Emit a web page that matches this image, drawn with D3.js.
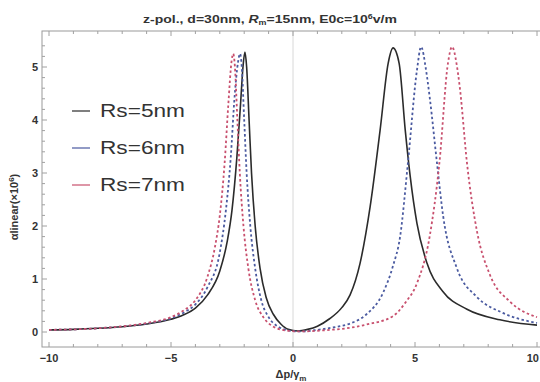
<!DOCTYPE html>
<html><head><meta charset="utf-8">
<script src="https://cdn.jsdelivr.net/npm/d3@7"></script>
<style>body{margin:0;background:#fff}svg{display:block}text{font-family:"Liberation Sans",Arial,sans-serif}</style>
</head><body><svg id="c" width="540" height="382"></svg>
<script>
const seriesNames = ["Rs=5nm","Rs=6nm","Rs=7nm"];
const xTicks = [-10,-5,0,5,10];
const yTicks = [0,1,2,3,4,5];
// Rs=5nm (black, solid)
const rs5 = [[-10,0.04],[-9,0.05],[-8,0.07],[-7,0.1],[-6,0.15],[-5,0.24],[-4.5,0.32],[-4,0.45],[-3.5,0.7],[-3,1.15],[-2.7,1.7],[-2.5,2.3],[-2.3,3.3],[-2.15,4.3],[-2.05,5.0],[-1.97,5.28],[-1.9,5.0],[-1.8,4.0],[-1.7,3.0],[-1.55,2.0],[-1.35,1.2],[-1.1,0.65],[-0.8,0.33],[-0.5,0.15],[-0.2,0.05],[0.2,0.02],[0.6,0.05],[1.0,0.11],[1.5,0.25],[2.0,0.46],[2.34,0.7],[2.75,1.3],[3.16,2.36],[3.57,3.81],[3.9,5.07],[4.1,5.36],[4.35,5.07],[4.6,3.81],[4.8,2.95],[5.08,2.05],[5.49,1.3],[6.15,0.76],[7.13,0.43],[8.48,0.23],[10,0.13]];
// Rs=6nm (blue, dashed)
const rs6 = [[-10,0.04],[-8,0.07],[-6,0.16],[-5,0.26],[-4.5,0.36],[-4,0.52],[-3.5,0.85],[-3,1.5],[-2.75,2.3],[-2.55,3.3],[-2.4,4.4],[-2.25,5.1],[-2.17,5.25],[-2.1,5.0],[-2.0,4.0],[-1.9,3.0],[-1.75,2.0],[-1.55,1.2],[-1.3,0.6],[-1.0,0.28],[-0.6,0.1],[-0.2,0.03],[0.3,0.01],[1.0,0.04],[1.8,0.1],[2.34,0.16],[3.0,0.33],[3.69,0.74],[4.1,1.25],[4.39,1.8],[4.71,3.19],[5.08,4.94],[5.25,5.38],[5.45,4.95],[5.61,4.4],[5.9,3.19],[6.15,2.2],[6.72,1.2],[7.54,0.66],[8.6,0.36],[10,0.17]];
// Rs=7nm (red, dashed)
const rs7 = [[-10,0.04],[-8,0.07],[-6,0.17],[-5,0.28],[-4.5,0.4],[-4,0.6],[-3.5,1.05],[-3.2,1.6],[-3.0,2.2],[-2.8,3.2],[-2.65,4.3],[-2.52,5.1],[-2.45,5.25],[-2.38,5.0],[-2.28,4.0],[-2.18,3.0],[-2.03,2.0],[-1.83,1.2],[-1.55,0.6],[-1.2,0.27],[-0.8,0.1],[-0.3,0.03],[0.3,0.01],[1.2,0.03],[2.34,0.08],[3.0,0.14],[4.1,0.3],[4.6,0.55],[5.08,0.92],[5.6,1.8],[6.0,3.19],[6.35,5.07],[6.52,5.38],[6.7,5.07],[6.84,4.6],[7.13,3.19],[7.54,1.9],[8.07,1.08],[8.9,0.57],[10,0.28]];
const seriesColors = ["#2b2b2b","#4a5aa0","#c8506e"];

const svg = d3.select("#c");
const x = d3.scaleLinear().domain([-10,10]).range([49,537]);
const y = d3.scaleLinear().domain([0,5]).range([332,67]);
const L=42,R=541,T=31,B=347;

svg.append("line").attr("x1",x(0)).attr("x2",x(0)).attr("y1",T).attr("y2",B).attr("stroke","#d8d8d8").attr("stroke-width",1);
svg.append("rect").attr("x",L).attr("y",T).attr("width",R-L).attr("height",B-T).attr("fill","none").attr("stroke","#9a9a9a").attr("stroke-width",1);

const xMinor = d3.range(-10,10.01,1);
xMinor.forEach(v=>{
  const major = xTicks.includes(v);
  const len = major?5:3;
  svg.append("line").attr("x1",x(v)).attr("x2",x(v)).attr("y1",B).attr("y2",B-len).attr("stroke","#a0a0a0");
  svg.append("line").attr("x1",x(v)).attr("x2",x(v)).attr("y1",T).attr("y2",T+len).attr("stroke","#a0a0a0");
});
const yMinor = d3.range(0,5.5,0.2);
yMinor.forEach(v=>{
  const major = Math.abs(v-Math.round(v))<1e-6;
  const len = major?5:3;
  svg.append("line").attr("x1",L).attr("x2",L+len).attr("y1",y(v)).attr("y2",y(v)).attr("stroke","#a0a0a0");
});

svg.selectAll(".xt").data(xTicks).enter().append("text")
  .attr("x",d=>d===10?539:x(d)).attr("y",362)
  .attr("text-anchor",d=>d===10?"end":"middle").attr("font-size",11).attr("font-weight","bold").attr("fill","#333")
  .text(d=>d<0?"\u2212"+Math.abs(d):d);
svg.selectAll(".yt").data(yTicks).enter().append("text").attr("x",38).attr("y",d=>y(d)+4)
  .attr("text-anchor","end").attr("font-size",11).attr("font-weight","bold").attr("fill","#333").text(d=>d);

const xl = svg.append("text").attr("x",291).attr("y",378).attr("text-anchor","middle").attr("font-size",11).attr("font-weight","bold").attr("fill","#333");
xl.append("tspan").text("\u0394p/\u03b3");
xl.append("tspan").attr("font-size",8).attr("dy",3).text("m");
const yl = svg.append("text").attr("transform","translate(18,207) rotate(-90)").attr("text-anchor","middle").attr("font-size",11).attr("font-weight","bold").attr("fill","#333");
yl.append("tspan").text("\u03b1linear(\u00d710");
yl.append("tspan").attr("font-size",8).attr("dy",-4).text("6");
yl.append("tspan").attr("dy",4).text(")");

const tt = svg.append("text").attr("x",270).attr("y",23).attr("text-anchor","middle").attr("font-size",11).attr("font-weight","bold").attr("fill","#333")
  .attr("textLength",254).attr("lengthAdjust","spacingAndGlyphs");
tt.append("tspan").text("z-pol., d=30nm, ");
tt.append("tspan").attr("font-style","italic").text("R");
tt.append("tspan").attr("font-size",7).attr("dy",2).text("m");
tt.append("tspan").attr("dy",-2).text("=15nm, E0c=10");
tt.append("tspan").attr("font-size",7).attr("dy",-4).text("6");
tt.append("tspan").attr("dy",4).text("v/m");

const line = d3.line().x(d=>x(d[0])).y(d=>y(d[1])).curve(d3.curveMonotoneX);
const data = [rs5,rs6,rs7];
const dashes = [null,"2.5,2.5","2.5,2.5"];
data.forEach((s,i)=>{
  svg.append("path").attr("d",line(s)).attr("fill","none").attr("stroke",seriesColors[i])
    .attr("stroke-width",i===0?1.6:1.8).attr("stroke-dasharray",dashes[i]);
});

seriesNames.forEach((n,i)=>{
  const ly = 111+i*37;
  svg.append("line").attr("x1",72).attr("x2",90).attr("y1",ly).attr("y2",ly).attr("stroke",seriesColors[i]).attr("stroke-width",1.5).attr("opacity",0.8);
  svg.append("text").attr("x",100).attr("y",ly+6).attr("font-size",19).attr("fill","#333")
    .attr("textLength",85).attr("lengthAdjust","spacingAndGlyphs").text(n);
});
</script></body></html>
